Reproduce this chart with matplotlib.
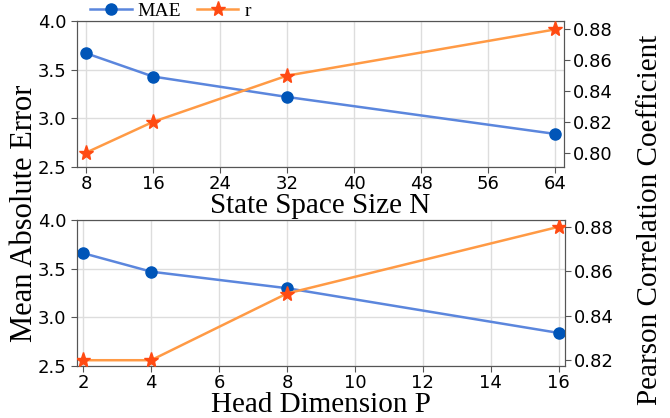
import matplotlib
matplotlib.use("Agg")
import matplotlib.pyplot as plt

# ==========================
# DATA
# ==========================
state_sizes = [8, 16, 32, 64]
state_mae = [3.67, 3.43, 3.22, 2.84]
state_r = [0.80, 0.82, 0.85, 0.88]

head_dims = [2, 4, 8, 16]
head_mae = [3.66, 3.47, 3.30, 2.84]
head_r = [0.82, 0.82, 0.85, 0.88]

state_ticks = [8, 16, 24, 32, 40, 48, 56, 64]
head_ticks = [2, 4, 6, 8, 10, 12, 14, 16]

# ==========================
# STYLE
# ==========================
MAE_LINE = "#5b86dd"
MAE_MARK = "#0055b8"
R_LINE = "#ff9a45"
R_MARK = "#ff4a12"
SERIF = ["Liberation Serif", "DejaVu Serif"]

plt.rcParams["font.family"] = "DejaVu Sans"
plt.rcParams["axes.edgecolor"] = "#555555"

fig = plt.figure(figsize=(6.7, 4.18), dpi=100)
ax_top = fig.add_axes([0.115, 0.6005, 0.727, 0.349])
ax_bot = fig.add_axes([0.115, 0.1244, 0.729, 0.349])


def draw_panel(ax, xs, mae, r, ticks, xlim, rlim, rticks, xlabel):
    ax.grid(True, color="#dddddd", linewidth=1.0)
    ax.set_axisbelow(True)
    l1, = ax.plot(xs, mae, color=MAE_LINE, lw=1.8, marker="o", ms=8,
                  mfc=MAE_MARK, mec=MAE_MARK, label="MAE", zorder=3)
    ax.set_xlim(*xlim)
    ax.set_ylim(2.5, 4.0)
    ax.set_yticks([2.5, 3.0, 3.5, 4.0])
    ax.set_xticks(ticks)
    ax.tick_params(labelsize=13, length=4, color="#555555")
    ax.tick_params(axis="x", pad=2)
    ax.set_xlabel(xlabel, family=SERIF, fontsize=21, labelpad=0)

    ax2 = ax.twinx()
    l2, = ax2.plot(xs, r, color=R_LINE, lw=1.8, marker="*", ms=11,
                   mfc=R_MARK, mec=R_MARK, label="r", zorder=3)
    ax2.set_ylim(*rlim)
    ax2.set_yticks(rticks)
    ax2.set_yticklabels(["%.2f" % t for t in rticks])
    ax2.tick_params(labelsize=13, length=4, color="#555555", pad=2)
    return l1, l2


h1, h2 = draw_panel(ax_top, state_sizes, state_mae, state_r, state_ticks,
                    (6.93, 65.07), (0.7907, 0.8854),
                    [0.80, 0.82, 0.84, 0.86, 0.88], "State Space Size N")
draw_panel(ax_bot, head_dims, head_mae, head_r, head_ticks,
           (1.82, 16.2), (0.8174, 0.883),
           [0.82, 0.84, 0.86, 0.88], "Head Dimension P")

fig.text(0.036, 0.49, "Mean Absolute Error", rotation=90, va="center",
         ha="center", family=SERIF, fontsize=22)
fig.text(0.97, 0.475, "Pearson Correlation Coefficient", rotation=90,
         va="center", ha="center", family=SERIF, fontsize=21)

fig.legend([h1, h2], ["MAE", "r"], loc="center left",
           bbox_to_anchor=(0.134, 0.974), ncol=2, frameon=False,
           prop={"family": SERIF, "size": 14}, handlelength=2.15,
           columnspacing=0.8, handletextpad=0.3, borderpad=0,
           borderaxespad=0)

fig.savefig("out.png", dpi=100)
